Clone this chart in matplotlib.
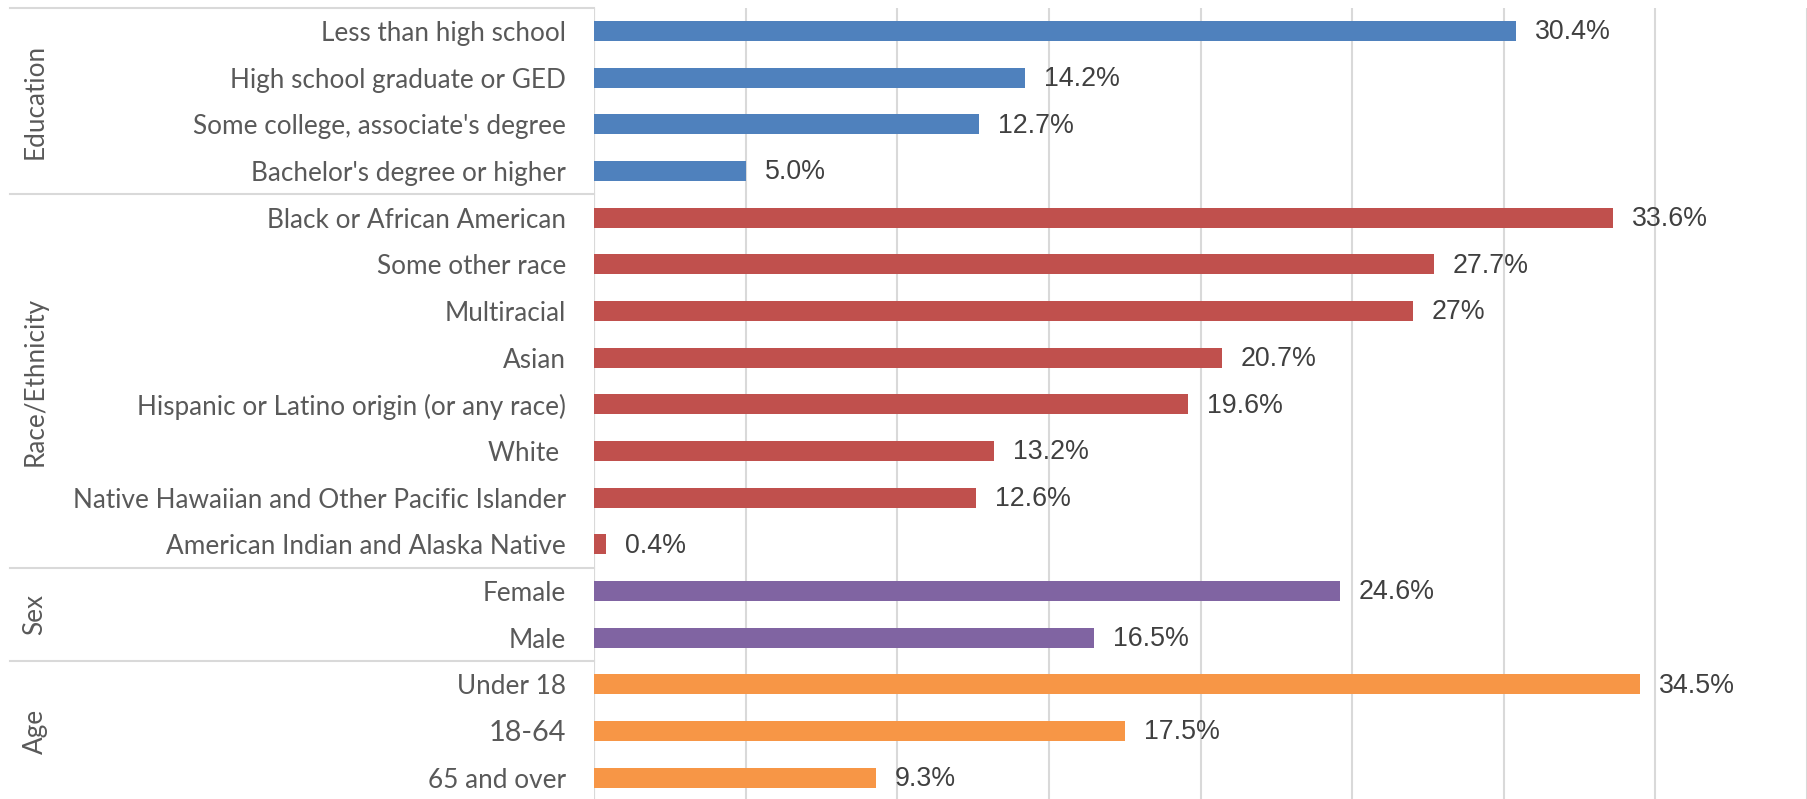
import matplotlib.pyplot as plt
import numpy as np

# categories top to bottom
labels = ["Less than high school", "High school graduate or GED",
          "Some college, associate's degree", "Bachelor's degree or higher",
          "Black or African American", "Some other race", "Multiracial", "Asian",
          "Hispanic or Latino origin (or any race)", "White ",
          "Native Hawaiian and Other Pacific Islander",
          "American Indian and Alaska Native",
          "Female", "Male",
          "Under 18", "18-64", "65 and over"]
values = [30.4, 14.2, 12.7, 5.0,
          33.6, 27.7, 27.0, 20.7, 19.6, 13.2, 12.6, 0.4,
          24.6, 16.5,
          34.5, 17.5, 9.3]
value_text = ["30.4%", "14.2%", "12.7%", "5.0%",
              "33.6%", "27.7%", "27%", "20.7%", "19.6%", "13.2%", "12.6%", "0.4%",
              "24.6%", "16.5%",
              "34.5%", "17.5%", "9.3%"]
groups = ["Education", "Race/Ethnicity", "Sex", "Age"]
group_sizes = [4, 8, 2, 3]
group_colors = ["#4F81BD", "#C0504D", "#8064A2", "#F79646"]

colors = []
for c, n in zip(group_colors, group_sizes):
    colors += [c] * n

fig = plt.figure(figsize=(18.07, 7.99), dpi=100)
left = 594 / 1807
ax = fig.add_axes([left, -0.0025, 1 - left, 0.9929])

y = np.arange(len(labels))
ax.barh(y, values, height=0.43, color=colors, zorder=3)
ax.set_ylim(len(labels) - 0.5, -0.5)
ax.set_xlim(0, 40)

ax.set_xticks(np.arange(0, 41, 5))
ax.xaxis.grid(True, color="#D9D9D9", linewidth=1.5, zorder=0)
ax.tick_params(axis="x", length=0, labelbottom=False)
for s in ax.spines.values():
    s.set_visible(False)

ax.set_yticks(y)
ax.set_yticklabels(labels, family=["Lato", "DejaVu Sans"], fontsize=18.8, color="#595959")
ax.tick_params(axis="y", length=0, pad=20)
for t in ax.get_yticklabels():
    if t.get_text() == "18-64":
        t.set_fontsize(20.8)

# value labels
for yi, v, txt in zip(y, values, value_text):
    ax.annotate(txt, (v, yi), xytext=(13.7, -1), textcoords="offset points",
                ha="left", va="center", fontsize=19.3, color="#404040",
                family=["Liberation Sans"])

# group separators and group names on the left
tr = ax.get_yaxis_transform()
x0 = (10 - 594) / (1807 - 594)
start = 0
bounds = [-0.5]
for g, n in zip(groups, group_sizes):
    bounds.append(start + n - 0.5)
    mid = start + (n - 1) / 2
    ax.text((35 - 594) / (1807 - 594), mid, g, rotation=90, ha="center", va="center",
            transform=tr, fontsize=18.8, color="#595959", family=["Lato", "DejaVu Sans"])
    start += n
for b in bounds:
    ax.plot([x0, 0], [b, b], transform=tr, color="#D9D9D9", linewidth=1.5, clip_on=False)
ax.plot([0, 0], [-0.5, len(labels) - 0.5], color="#D9D9D9", linewidth=1.5, zorder=2)

plt.savefig("out.png", dpi=100)
